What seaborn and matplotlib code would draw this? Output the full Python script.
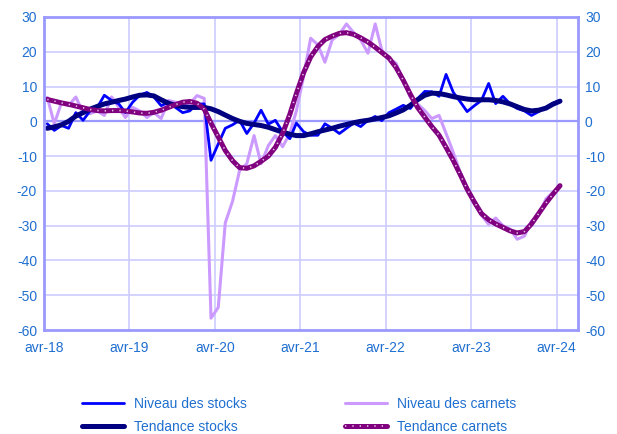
import pandas as pd
import matplotlib
matplotlib.use("Agg")
import matplotlib.pyplot as plt
import seaborn as sns
from matplotlib.lines import Line2D

# monthly values, avr-18 .. avr-24
niveau_stocks = [-0.7, -2.6, -1.2, -2.0, 2.5, 0.3, 3.0, 4.0, 7.5, 6.0, 5.0, 2.5,
                 5.5, 7.5, 8.3, 7.0, 4.5, 5.5, 4.0, 2.5, 3.0, 5.0, 5.0, -11.2,
                 -6.5, -2.0, -1.0, 0.3, -3.5, -0.5, 3.2, -0.8, 0.3, -3.0, -5.0, -0.5,
                 -3.0, -4.0, -4.0, -0.7, -2.0, -3.5, -2.0, -0.5, -1.5, 0.3, 1.4, 0.2,
                 2.5, 3.5, 4.6, 3.7, 6.5, 8.6, 8.5, 7.2, 13.5, 8.3, 5.5, 2.8,
                 4.5, 6.0, 10.9, 5.1, 7.2, 5.0, 3.7, 3.0, 1.7, 2.8, 4.0, 5.2, 6.0]
tendance_stocks = [-2.0, -1.6, -1.0, 0.0, 1.5, 2.5, 3.5, 4.3, 5.0, 5.5, 6.0, 6.4,
                   7.0, 7.5, 7.6, 7.3, 6.2, 5.2, 4.6, 4.2, 4.0, 4.0, 4.0, 3.6,
                   2.8, 1.8, 0.8, 0.0, -0.6, -0.9, -1.2, -1.7, -2.4, -3.1, -3.7, -4.1,
                   -4.1, -3.6, -3.0, -2.5, -2.0, -1.4, -0.9, -0.4, 0.0, 0.3, 0.7, 1.1,
                   1.6, 2.4, 3.3, 4.6, 6.2, 7.5, 8.1, 8.0, 7.6, 7.1, 6.7, 6.4,
                   6.2, 6.2, 6.2, 6.0, 5.6, 5.0, 4.2, 3.4, 3.0, 3.2, 3.8, 4.9, 5.8]
niveau_carnets = [6.9, -0.7, 5.4, 4.5, 7.0, 2.5, 2.2, 3.0, 1.7, 7.0, 4.0, 1.1,
                  4.0, 3.0, 1.1, 2.5, 0.8, 6.0, 5.5, 5.1, 5.0, 7.4, 6.6, -56.6,
                  -53.5, -29.2, -23.0, -14.2, -12.2, -4.1, -12.2, -7.0, -4.1, -7.3, -3.5, 3.0,
                  13.0, 23.9, 22.0, 17.0, 23.4, 25.0, 28.0, 25.5, 23.4, 19.6, 28.0, 20.5,
                  18.0, 16.7, 11.8, 6.9, 5.0, 3.1, 0.8, 1.7, -3.5, -9.0, -15.0, -19.5,
                  -23.8, -27.0, -29.6, -27.8, -30.0, -31.0, -33.9, -33.0, -28.7, -27.0, -22.3, -20.5, -18.5]
tendance_carnets = [6.3, 5.8, 5.3, 4.9, 4.4, 3.9, 3.4, 3.1, 3.0, 3.1, 3.1, 3.0,
                    2.7, 2.4, 2.3, 2.6, 3.2, 4.0, 4.8, 5.5, 5.7, 5.2, 3.5, -0.5,
                    -4.5, -8.4, -11.3, -13.3, -13.5, -12.8, -11.5, -10.0, -7.5, -3.5, 2.0, 8.0,
                    14.0, 18.5, 21.5, 23.5, 24.5, 25.3, 25.5, 25.0, 24.0, 22.8, 21.3, 19.8,
                    18.2, 15.5, 11.8, 7.8, 4.0, 1.2, -1.5, -4.0, -7.5, -11.3, -15.5, -19.5,
                    -23.2, -26.5, -28.3, -29.5, -30.5, -31.5, -32.1, -31.7, -29.5, -26.5, -23.5, -21.0, -18.5]

years = ["18", "19", "20", "21", "22", "23", "24"]
tick_labels = ["avr-" + y for y in years]

dates = pd.date_range("2018-04-01", periods=len(niveau_stocks), freq="MS") + pd.Timedelta(days=14)
df = pd.DataFrame({
    "date": dates,
    "Niveau des stocks": niveau_stocks,
    "Tendance stocks": tendance_stocks,
    "Niveau des carnets": niveau_carnets,
    "Tendance carnets": tendance_carnets,
})

sns.set_style("white")
plt.rcParams["font.family"] = ["Liberation Sans", "DejaVu Sans"]
plt.rcParams["axes.unicode_minus"] = False

txt_col = "#1F6FD0"
axis_col = "#9999FF"
grid_col = "#CCCCFF"

fig = plt.figure(figsize=(6.17, 4.34), dpi=100)
ax = fig.add_axes([44 / 617, 1 - 330 / 434, (578 - 44) / 617, (330 - 17) / 434])

ticks = [pd.Timestamp("20" + y + "-04-01") for y in years]
for t in ticks:
    ax.axvline(t, color=grid_col, lw=1.2, zorder=0)
for v in range(-50, 40, 10):
    ax.axhline(v, color=grid_col, lw=1.2, zorder=0)
ax.axhline(0, color=axis_col, lw=1.6, zorder=0.5)

sns.lineplot(data=df, x="date", y="Niveau des carnets", ax=ax, color="#CC99FF", lw=2.2)
sns.lineplot(data=df, x="date", y="Niveau des stocks", ax=ax, color="#0000FF", lw=2.0)
sns.lineplot(data=df, x="date", y="Tendance stocks", ax=ax, color="#000080", lw=3.6)
sns.lineplot(data=df, x="date", y="Tendance carnets", ax=ax, color="#800080", lw=3.6)
sns.lineplot(data=df, x="date", y="Tendance carnets", ax=ax, color="#E0C4E0", lw=1.2,
             linestyle=(0, (0.8, 3.6)))

ax.set_xlim(pd.Timestamp("2018-04-01"), pd.Timestamp("2024-07-01"))
ax.set_ylim(-60, 30)
ax.set_yticks(range(-60, 40, 10))
ax.set_xticks(ticks)
ax.set_xticklabels(tick_labels)
ax.set_xlabel("")
ax.set_ylabel("")
ax.tick_params(axis="both", length=0, colors=txt_col, labelsize=10, pad=4)
ax.tick_params(axis="y", labelright=True, pad=5)
ax.tick_params(axis="x", pad=8)
for s in ax.spines.values():
    s.set_color(axis_col)
    s.set_linewidth(2)
    s.set_visible(True)

h1 = Line2D([], [], color="#0000FF", lw=2.0)
h2 = Line2D([], [], color="#000080", lw=3.6)
h3 = Line2D([], [], color="#CC99FF", lw=2.2)
h4 = (Line2D([], [], color="#800080", lw=3.6),
      Line2D([], [], color="#E0C4E0", lw=1.2, linestyle=(0, (0.8, 3.6))))
leg = fig.legend([h1, h2, h3, h4],
                 ["Niveau des stocks", "Tendance stocks", "Niveau des carnets", "Tendance carnets"],
                 ncol=2, loc="center", bbox_to_anchor=(0.485, 0.043), frameon=False,
                 fontsize=10, handlelength=3.0, columnspacing=7.1, labelspacing=0.6,
                 handletextpad=0.7)
for t in leg.get_texts():
    t.set_color(txt_col)

fig.savefig("out.png", dpi=100)
